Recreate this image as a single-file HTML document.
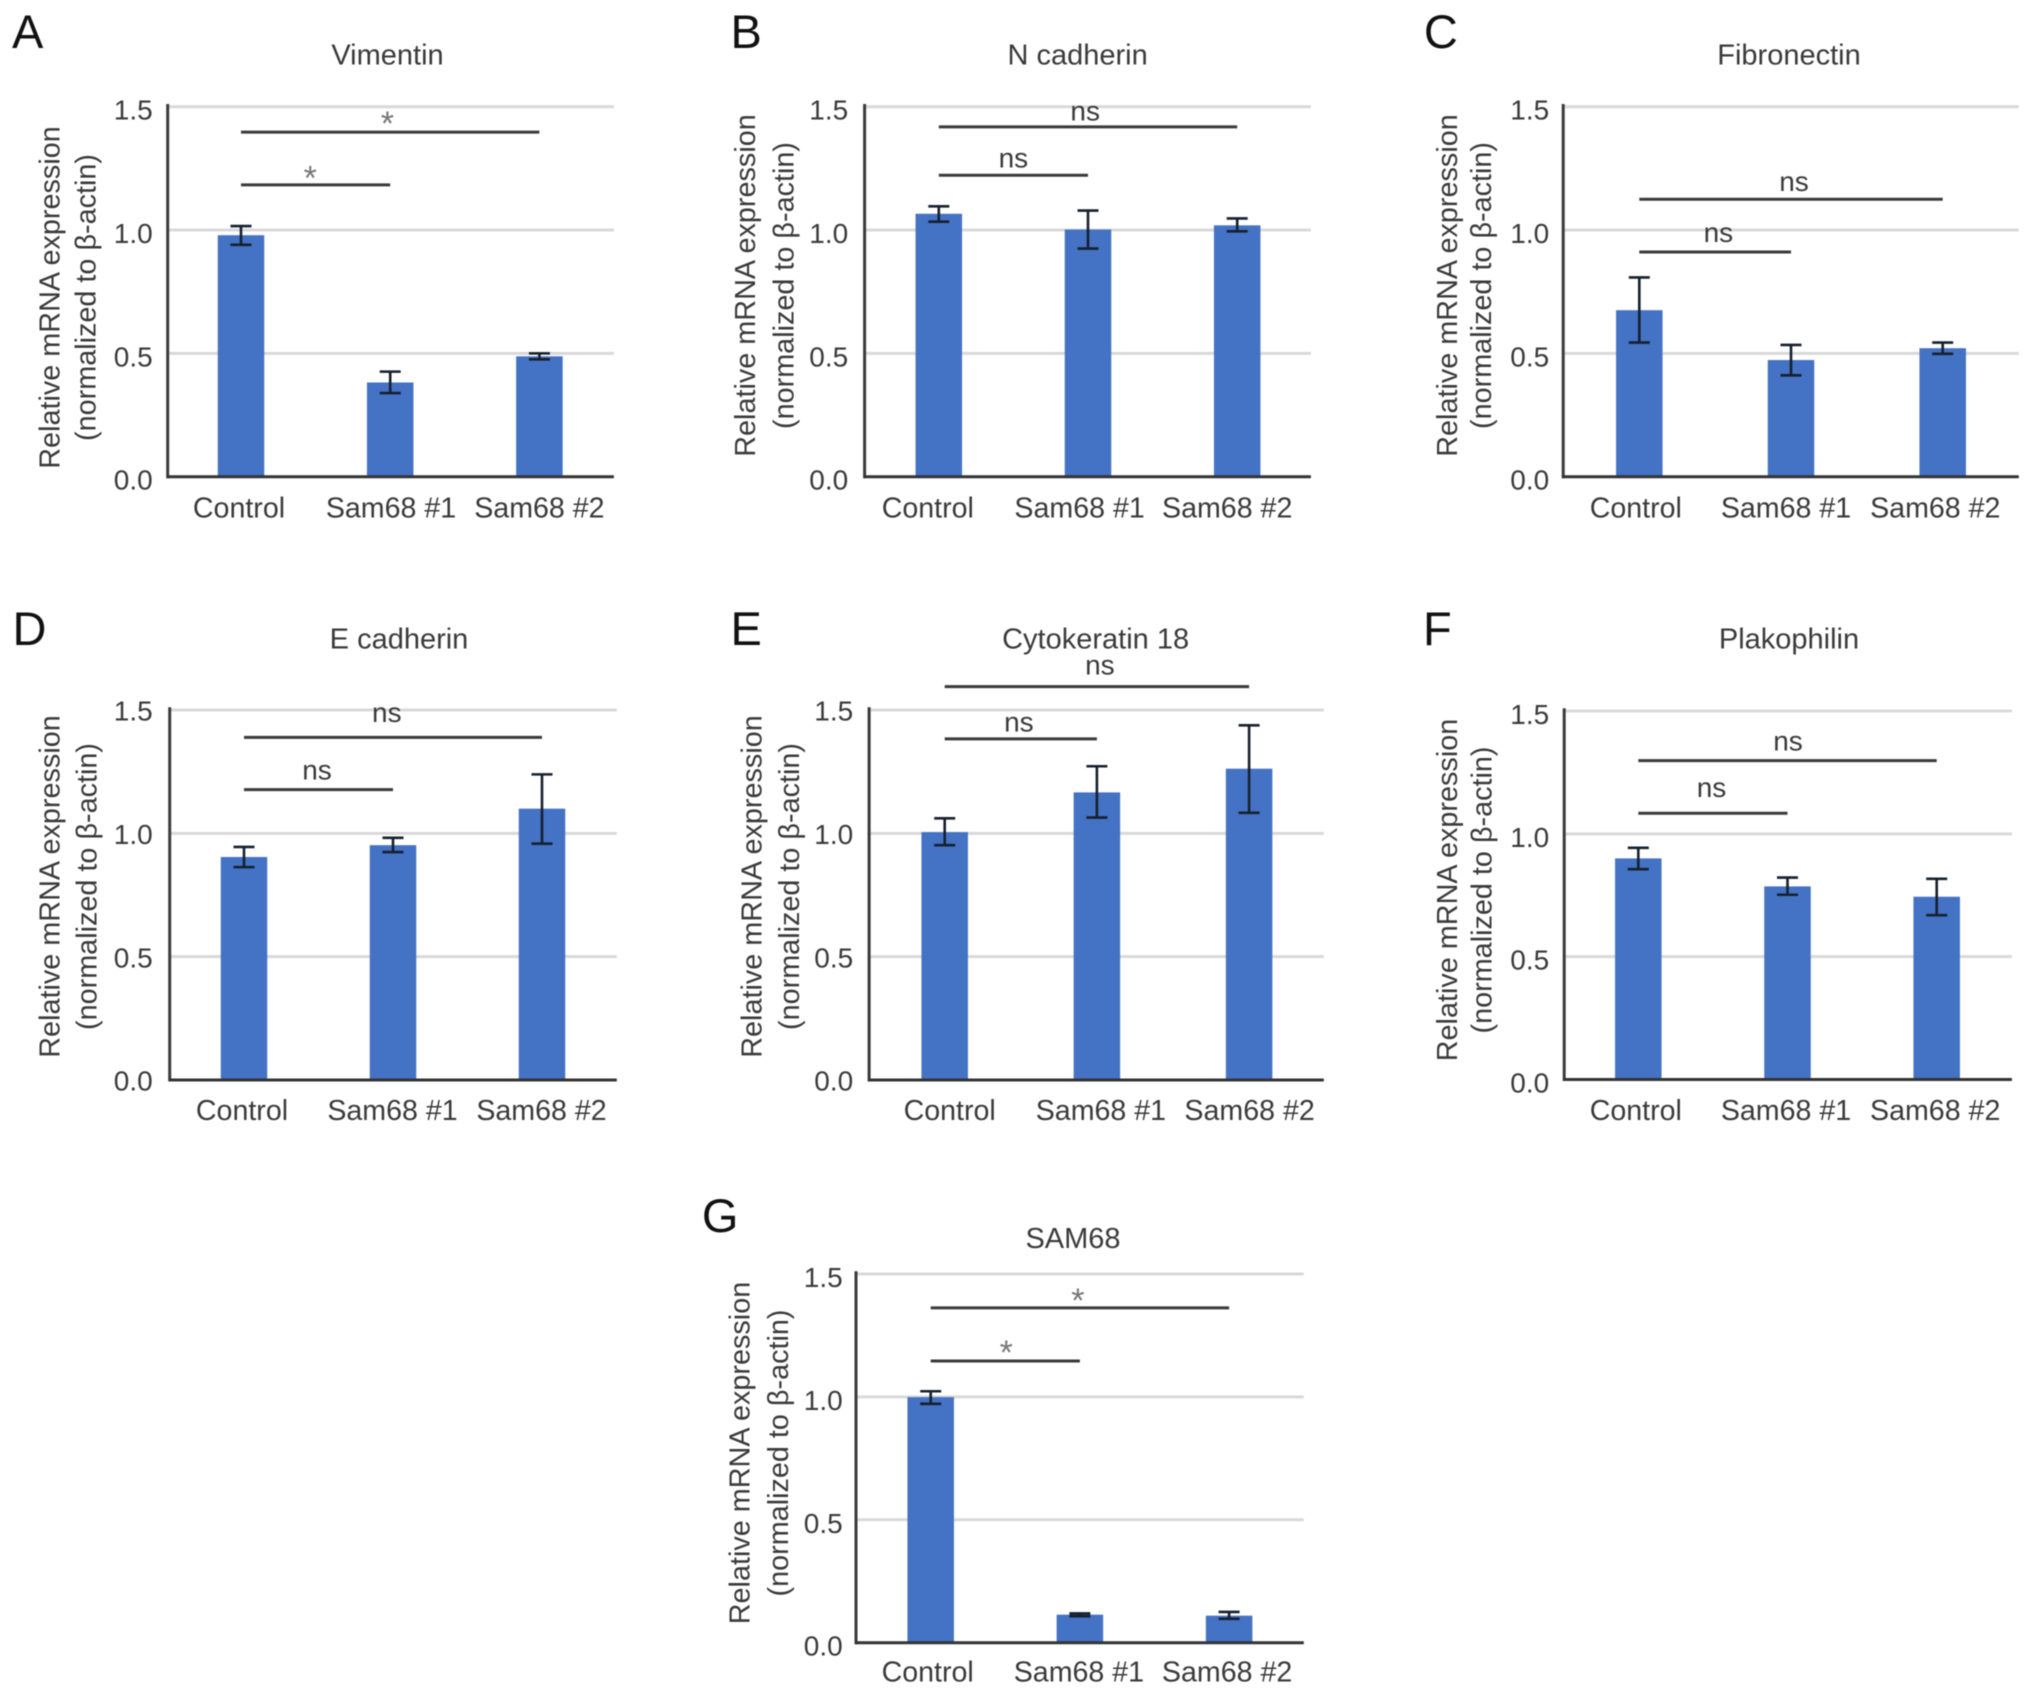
<!DOCTYPE html>
<html lang="en">
<head>
<meta charset="utf-8">
<title>Relative mRNA expression panels</title>
<style>
html,body{margin:0;padding:0;background:#fff;}
#figure{display:block;width:2032px;height:1694px;filter:blur(0.55px);}
text{font-family:"Liberation Sans",sans-serif;fill:#3a3a3a;}
</style>
</head>
<body>
<svg id="figure" xmlns="http://www.w3.org/2000/svg" width="2032" height="1694" viewBox="0 0 2032 1694"></svg>
<script>
const categories = ['Control', 'Sam68 #1', 'Sam68 #2'];
const tickValues = [0, 0.5, 1, 1.5];
const tickLabels = ['0.0', '0.5', '1.0', '1.5'];

const vimentinValues = [0.979, 0.382, 0.488];
const vimentinHigh = [1.016, 0.426, 0.500];
const vimentinLow = [0.940, 0.339, 0.476];
const vimentinSigLevels = [1.183, 1.397];
const vimentinSigLabels = ['*', '*'];

const nCadherinValues = [1.066, 1.002, 1.019];
const nCadherinHigh = [1.096, 1.079, 1.047];
const nCadherinLow = [1.034, 0.925, 0.995];
const nCadherinSigLevels = [1.222, 1.418];
const nCadherinSigLabels = ['ns', 'ns'];

const fibronectinValues = [0.675, 0.473, 0.521];
const fibronectinHigh = [0.808, 0.534, 0.544];
const fibronectinLow = [0.544, 0.411, 0.498];
const fibronectinSigLevels = [0.911, 1.125];
const fibronectinSigLabels = ['ns', 'ns'];

const eCadherinValues = [0.904, 0.952, 1.100];
const eCadherinHigh = [0.945, 0.982, 1.239];
const eCadherinLow = [0.863, 0.924, 0.958];
const eCadherinSigLevels = [1.177, 1.389];
const eCadherinSigLabels = ['ns', 'ns'];

const cytokeratinValues = [1.005, 1.166, 1.262];
const cytokeratinHigh = [1.061, 1.272, 1.438];
const cytokeratinLow = [0.952, 1.064, 1.083];
const cytokeratinSigLevels = [1.383, 1.595];
const cytokeratinSigLabels = ['ns', 'ns'];

const plakophilinValues = [0.900, 0.786, 0.744];
const plakophilinHigh = [0.943, 0.822, 0.817];
const plakophilinLow = [0.856, 0.752, 0.669];
const plakophilinSigLevels = [1.084, 1.298];
const plakophilinSigLabels = ['ns', 'ns'];

const sam68Values = [0.999, 0.114, 0.110];
const sam68High = [1.023, 0.119, 0.125];
const sam68Low = [0.972, 0.108, 0.097];
const sam68SigLevels = [1.146, 1.362];
const sam68SigLabels = ['*', '*'];

const yMax = 1.5;

/* layout of each panel (frame geometry only; values come from the arrays above) */
const panels = [
  {letter:'A',title:'Vimentin',values:vimentinValues,high:vimentinHigh,low:vimentinLow,sig:vimentinSigLevels,sigText:vimentinSigLabels,
   left:167.7,right:613.9,top:106.7,bottom:476.7,first:241,step:149.2,labelDx:[-2,0.8,0],tickRight:152.7,tickDy:13,titleX:387.5,titleY:64.7,letterX:12,letterY:48,
   yT1:49.7,yT2:85.6,yTc:297.5,catY:517.3,sigDx:[-80,-152],sigDy:[11.6,13]},
  {letter:'B',title:'N cadherin',values:nCadherinValues,high:nCadherinHigh,low:nCadherinLow,sig:nCadherinSigLevels,sigText:nCadherinSigLabels,
   left:864.6,right:1310.9,top:106.7,bottom:476.7,first:938.8,step:149.2,labelDx:[-11,-8.4,-10],tickRight:848.2,tickDy:13,titleX:1077.6,titleY:64.7,letterX:730.5,letterY:48,
   yT1:744.8,yT2:783.6,yTc:285.5,catY:517.3,sigDx:[-74.6,-152],sigDy:[16,14.4]},
  {letter:'C',title:'Fibronectin',values:fibronectinValues,high:fibronectinHigh,low:fibronectinLow,sig:fibronectinSigLevels,sigText:fibronectinSigLabels,
   left:1563.2,right:2018.8,top:106.7,bottom:476.7,first:1639.3,step:151.7,labelDx:[-3.5,-5,-7.4],tickRight:1549.2,tickDy:13,titleX:1789,titleY:64.7,letterX:1423.9,letterY:48,
   yT1:1446.8,yT2:1481,yTc:285.5,catY:517.3,sigDx:[-72.6,-148.7],sigDy:[18,16]},
  {letter:'D',title:'E cadherin',values:eCadherinValues,high:eCadherinHigh,low:eCadherinLow,sig:eCadherinSigLevels,sigText:eCadherinSigLabels,
   left:169.7,right:616.8,top:710,bottom:1080,first:244,step:149,labelDx:[-2,-0.5,-0.5],tickRight:152.7,tickDy:10.7,titleX:399,titleY:648.3,letterX:12.5,letterY:644.8,
   yT1:49.7,yT2:86.5,yTc:886.5,catY:1120,sigDx:[-76,-155.2],sigDy:[18,23.5]},
  {letter:'E',title:'Cytokeratin 18',values:cytokeratinValues,high:cytokeratinHigh,low:cytokeratinLow,sig:cytokeratinSigLevels,sigText:cytokeratinSigLabels,
   left:869.1,right:1323.8,top:710,bottom:1080,first:944.7,step:152.2,labelDx:[5,4,0.5],tickRight:853.2,tickDy:10.7,titleX:1095.6,titleY:648.3,letterX:730.5,letterY:644.8,
   yT1:751.3,yT2:788.8,yTc:886.5,catY:1120,sigDx:[-78,-149.2],sigDy:[15.4,20]},
  {letter:'F',title:'Plakophilin',values:plakophilinValues,high:plakophilinHigh,low:plakophilinLow,sig:plakophilinSigLevels,sigText:plakophilinSigLabels,
   left:1564.2,right:2011.9,top:711,bottom:1079.5,first:1638.3,step:149.2,labelDx:[-2.5,-1.5,-1.5],tickRight:1549.2,tickDy:13,titleX:1789,titleY:648.3,letterX:1423,letterY:644.8,
   yT1:1446.8,yT2:1481.5,yTc:890,catY:1120,sigDx:[-76,-148.7],sigDy:[24,18]},
  {letter:'G',title:'SAM68',values:sam68Values,high:sam68High,low:sam68Low,sig:sam68SigLevels,sigText:sam68SigLabels,
   left:856,right:1303.8,top:1274,bottom:1642.7,first:930.7,step:149.2,labelDx:[-3,-1,-2],tickRight:842.7,tickDy:13,titleX:1073,titleY:1248,letterX:701.9,letterY:1232,
   yT1:739.7,yT2:777.8,yTc:1453,catY:1681.7,sigDx:[-73.6,-151.2],sigDy:[13,12]}
];

const NS = 'http://www.w3.org/2000/svg';
const root = document.getElementById('figure');

function mk(tag, parent, attrs, txt) {
  const n = document.createElementNS(NS, tag);
  for (const k in attrs) n.setAttribute(k, attrs[k]);
  if (txt !== undefined) n.textContent = txt;
  parent.appendChild(n);
  return n;
}
function yScale(p, v) {
  return p.bottom - (v / yMax) * (p.bottom - p.top);
}
function xScale(p, i) {
  return p.first + p.step * i;
}

panels.forEach(function (p) {
  const g = mk('g', root, {});
  
  

  const letter = mk('text', g, {x: p.letterX, y: p.letterY, 'font-size': 47, style: 'fill:#111'}, p.letter);
  
  

  const title = mk('text', g, {x: p.titleX, y: p.titleY, 'font-size': 29, 'text-anchor': 'middle'}, p.title);
  
  

  const t1 = mk('text', g, {x: p.yT1 + 10, y: p.yTc, 'font-size': 28.8, 'text-anchor': 'middle', transform: 'rotate(-90 ' + (p.yT1 + 10) + ' ' + p.yTc + ')'}, 'Relative mRNA expression');
  
  

  const t2 = mk('text', g, {x: p.yT2 + 10, y: p.yTc, 'font-size': 28.8, 'text-anchor': 'middle', transform: 'rotate(-90 ' + (p.yT2 + 10) + ' ' + p.yTc + ')'}, '(normalized to \u03b2-actin)');
  
  

  tickValues.forEach(function (v, i) {
    const y = yScale(p, v);
    if (v > 0) {
      const grid = mk('line', g, {x1: p.left, x2: p.right, y1: y, y2: y, stroke: '#d9d9d9', 'stroke-width': 3});
      
      
    }
    const tick = mk('text', g, {x: p.tickRight, y: y + p.tickDy, 'font-size': 28, 'text-anchor': 'end'}, tickLabels[i]);
    
    
  });

  p.values.forEach(function (v, i) {
    const cx = xScale(p, i);
    const bar = mk('rect', g, {x: cx - 23.25, y: yScale(p, v), width: 46.5, height: p.bottom - yScale(p, v), fill: '#4472c4'});
    
    
  });

  const yAxis = mk('line', g, {x1: p.left, x2: p.left, y1: p.top - 2.7, y2: p.bottom + 1.5, stroke: '#3a3a3a', 'stroke-width': 3});
  
  

  const xAxis = mk('line', g, {x1: p.left - 1, x2: p.right, y1: p.bottom, y2: p.bottom, stroke: '#333', 'stroke-width': 3});
  
  

  p.values.forEach(function (v, i) {
    const cx = xScale(p, i);
    const yHi = yScale(p, p.high[i]);
    const yLo = yScale(p, p.low[i]);
    const d = 'M' + (cx - 10.5) + ' ' + yHi + 'H' + (cx + 10.5) + 'M' + cx + ' ' + yHi + 'V' + yLo + 'M' + (cx - 10.5) + ' ' + yLo + 'H' + (cx + 10.5);
    const err = mk('path', g, {d: d, fill: 'none', stroke: '#16202e', 'stroke-width': 2.6});
    
    

    const cat = mk('text', g, {x: cx + p.labelDx[i], y: p.catY, 'font-size': 28.6, 'text-anchor': 'middle'}, categories[i]);
    
    
  });

  p.sig.forEach(function (level, i) {
    const y = yScale(p, level);
    const x1 = xScale(p, 0);
    const x2 = xScale(p, i + 1);
    const line = mk('line', g, {x1: x1, x2: x2, y1: y, y2: y, stroke: '#3a3a3a', 'stroke-width': 3});
    
    

    const isStar = p.sigText[i] === '*';
    const labelY = y - p.sigDy[i] + (isStar ? 16 : 8);
    const label = mk('text', g, {x: x2 + p.sigDx[i], y: labelY, 'font-size': isStar ? 34 : 28, 'text-anchor': 'middle', style: isStar ? 'fill:#777' : ''}, p.sigText[i]);
    
    
  });
});
</script>
</body>
</html>
